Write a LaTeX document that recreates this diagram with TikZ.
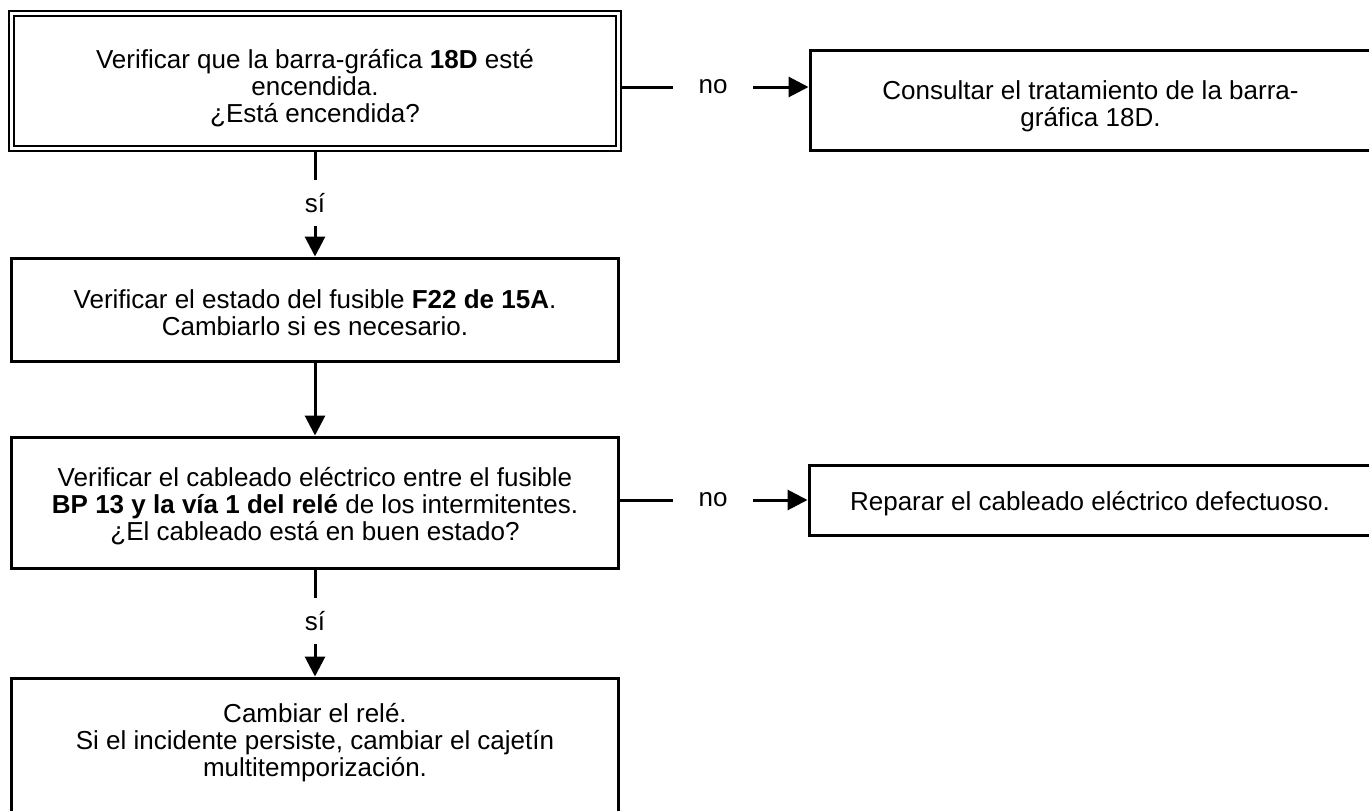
\documentclass[tikz,border=0pt]{standalone}
\usepackage{fontspec}
\setmainfont{Liberation Sans}
\usetikzlibrary{arrows.meta, positioning}

\begin{document}
\begin{tikzpicture}[x=1pt, y=-1pt,
    font=\fontsize{26}{27}\selectfont,
    box/.style={draw, line width=3pt, align=center, inner sep=0pt, text depth=0pt},
    first/.style={box, double, line width=2.5pt, double distance=2.5pt},
    lbl/.style={inner sep=0pt, minimum width=80pt},
    vlbl/.style={inner sep=0pt, minimum height=46pt},
    ln/.style={line width=3pt},
    ar/.style={ln, -{Triangle[length=20pt, width=20pt]}}
  ]
  \useasboundingbox (0,0) rectangle (1369,811);
  \node[first, minimum width=607pt, minimum height=135pt, text height=82pt] (q1) at (315,81) {Verificar que la barra-gráfica \textbf{18D} esté\\ encendida.\\ ¿Está encendida?};
  \node[box, minimum width=561pt, minimum height=100pt, text height=52pt] (q2) at (1090.5,100) {Consultar el tratamiento de la barra-\\ gráfica 18D.};
  \node[box, minimum width=607pt, minimum height=103pt, text height=52pt] (q3) at (315,309.5) {Verificar el estado del fusible \textbf{F22 de 15A}.\\ Cambiarlo si es necesario.};
  \node[box, minimum width=607pt, minimum height=131pt, text height=75pt] (q4) at (315,502.5) {Verificar el cableado eléctrico entre el fusible\\ \textbf{BP 13 y la vía 1 del relé} de los intermitentes.\\ ¿El cableado está en buen estado?};
  \node[box, minimum width=562pt, minimum height=70pt, text height=20pt] (q5) at (1090,500) {Reparar el cableado eléctrico defectuoso.};
  \node[box, minimum width=607pt, minimum height=135pt, text height=61pt] (q6) at (315,745.5) {Cambiar el relé.\\ Si el incidente persiste, cambiar el cajetín\\ multitemporización.};
  % respuestas
  \node[lbl] (no1) at (713,87) {no};
  \node[lbl] (no2) at (713,500) {no};
  \node[vlbl] (si1) at (315,203) {sí};
  \node[vlbl] (si2) at (315,621) {sí};
  \draw[ln] (q1.east |- no1) -- (no1.west);
  \draw[ar] (no1.east) -- (q2.west |- no1);
  \draw[ln] (q1.south) -- (si1.north);
  \draw[ar] (si1.south) -- (q3.north);
  \draw[ar] (q3.south) -- (q4.north);
  \draw[ln] (q4.east |- no2) -- (no2.west);
  \draw[ar] (no2.east) -- (q5.west |- no2);
  \draw[ln] (q4.south) -- (si2.north);
  \draw[ar] (si2.south) -- (q6.north);
\end{tikzpicture}
\end{document}
